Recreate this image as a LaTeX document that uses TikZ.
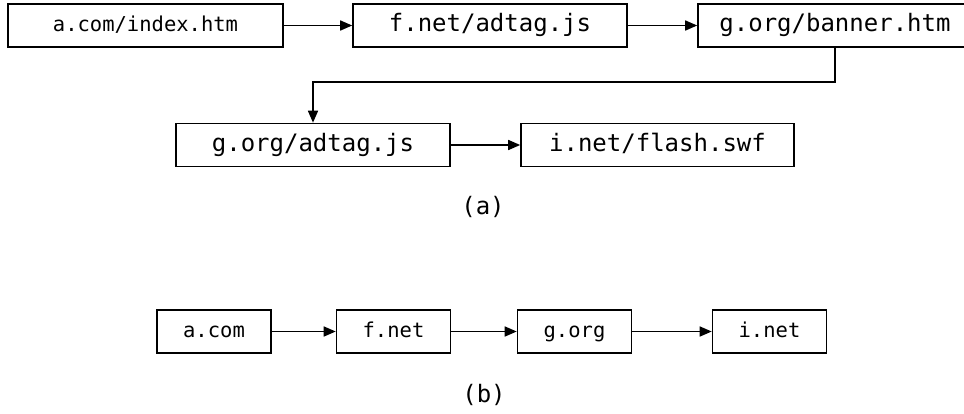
\documentclass[tikz,border=0pt]{standalone}
\usepackage{fontspec}
\setmonofont{DejaVu Sans Mono}
\usetikzlibrary{arrows.meta}
\tikzset{
  url/.style={draw, line width=1.6pt, minimum height=43pt, inner sep=0pt,
    text height=17pt, text depth=4.5pt,
    font=\ttfamily\fontsize{24}{28}\selectfont},
  small/.style={text height=15pt, text depth=4pt,
    font=\ttfamily\fontsize{20.5}{24}\selectfont},
  host/.style={url, small, minimum width=114pt},
  link/.style={line width=1.6pt, -{Triangle[length=12pt,width=10pt]}},
  caption/.style={font=\ttfamily\fontsize{24}{28}\selectfont}
}
\begin{document}
\begin{tikzpicture}[x=1pt, y=-1pt]
    \useasboundingbox (0, 0) rectangle (964, 413);
        % (a) request chain
        \node[url, small, minimum width=275pt] (index) at (145.5, 25.5) {a.com/index.htm};
        \node[url, minimum width=274pt] (fadtag) at (490, 25.5) {f.net/adtag.js};
        \node[url, minimum width=274pt] (banner) at (835, 25.5) {g.org/banner.htm};
        \node[url, minimum width=274pt] (gadtag) at (313, 145) {g.org/adtag.js};
        \node[url, minimum width=273pt] (flash) at (657.5, 145) {i.net/flash.swf};
        \draw[link] (index) -- (fadtag);
        \draw[link] (fadtag) -- (banner);
        \draw[link] (banner.south) -- ++(0, 34) -| (gadtag.north);
        \draw[link] (gadtag) -- (flash);
        \node[caption] (capa) at (483, 207) {(a)};
        % (b) hosts only
        \node[host] (acom) at (214, 331.5) {a.com};
        \node[host] (fnet) at (393.5, 331.5) {f.net};
        \node[host] (gorg) at (574.5, 331.5) {g.org};
        \node[host] (inet) at (769.5, 331.5) {i.net};
        \draw[link] (acom) -- (fnet);
        \draw[link] (fnet) -- (gorg);
        \draw[link] (gorg) -- (inet);
        \node[caption] (capb) at (484, 395) {(b)};
    \end{tikzpicture}
\end{document}
